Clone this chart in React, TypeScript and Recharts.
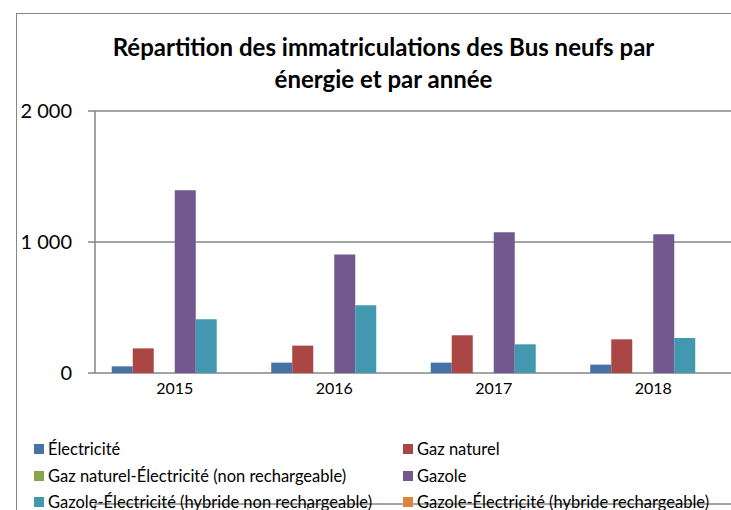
import { Bar, BarChart, CartesianGrid, XAxis, YAxis } from 'recharts';

const years = ['2015', '2016', '2017', '2018'];
const electricite = [51, 79, 79, 64];
const gazNaturel = [188, 209, 288, 257];
const gazNaturelElec = [0, 0, 0, 0];
const gazole = [1395, 904, 1074, 1059];
const gazoleHybride = [410, 517, 219, 267];
const gazoleRechargeable = [0, 0, 0, 0];
const yTicks = [0, 1000, 2000];
const edgeTicks = [0, 1, 2, 3, 4];

const series = [
  { key: 'elec', name: 'Électricité', values: electricite, color: '#4572A7' },
  { key: 'gaz', name: 'Gaz naturel', values: gazNaturel, color: '#AA4643' },
  { key: 'gazElec', name: 'Gaz naturel-Électricité (non rechargeable)', values: gazNaturelElec, color: '#89A54E' },
  { key: 'gazole', name: 'Gazole', values: gazole, color: '#71588F' },
  { key: 'hybride', name: 'Gazole-Électricité (hybride non rechargeable)', values: gazoleHybride, color: '#4198AF' },
  { key: 'recharge', name: 'Gazole-Électricité (hybride rechargeable)', values: gazoleRechargeable, color: '#DB843D' },
];

const data = years.map((year, i) => {
  const row: Record<string, string | number> = { year };
  series.forEach((s) => {
    row[s.key] = s.values[i];
  });
  return row;
});

const font = 'Lato, "Open Sans", sans-serif';
const gray = '#868686';

const fmt = (v: number) => String(v).replace(/\B(?=(\d{3})+(?!\d))/g, ' ');

function LegendBlock() {
  return (
    <div
      style={{
        position: 'absolute',
        left: 34,
        top: 436,
        width: 700,
        display: 'grid',
        gridTemplateColumns: '369px 330px',
        fontFamily: font,
        fontSize: 16.5,
        color: '#000',
      }}
    >
      {series.map((s) => (
        <div key={s.key} style={{ display: 'flex', alignItems: 'center', height: 26.5, whiteSpace: 'nowrap' }}>
          <span style={{ width: 10, height: 10, background: s.color, marginRight: 4, display: 'inline-block' }} />
          {s.name}
        </div>
      ))}
    </div>
  );
}

export default function App() {
  return (
    <div style={{ position: 'absolute', left: 0, top: 0, width: 731, height: 510, overflow: 'hidden', background: '#fff' }}>
      <div
        style={{
          position: 'absolute',
          left: 16,
          top: 13,
          width: 760,
          height: 540,
          border: `1.5px solid ${gray}`,
        }}
      />
      <div
        style={{
          position: 'absolute',
          left: 0,
          top: 31,
          width: 767,
          textAlign: 'center',
          fontFamily: font,
          fontWeight: 700,
          fontSize: 24,
          lineHeight: '32px',
          color: '#000',
        }}
      >
        Répartition des immatriculations des Bus neufs par
        <br />
        énergie et par année
      </div>
      <div style={{ position: 'absolute', left: 0, top: 0 }}>
        <BarChart
          width={740}
          height={510}
          data={data}
          margin={{ top: 111, right: 7, bottom: 0, left: 0 }}
          barGap={0}
          barCategoryGap="10.5%"
        >
          <CartesianGrid horizontal vertical={false} stroke={gray} strokeWidth={1.5} />
          <XAxis
            xAxisId="edges"
            type="number"
            domain={[0, 4]}
            ticks={edgeTicks}
            allowDataOverflow
            height={6}
            tickSize={6}
            stroke={gray}
            strokeWidth={1.5}
            tickFormatter={() => ''}
          />
          <XAxis
            dataKey="year"
            height={131}
            axisLine={false}
            tickLine={false}
            tick={{ fill: '#000', fontSize: 16, fontFamily: font }}
            tickMargin={4}
          />
          <YAxis
            domain={[0, 2000]}
            ticks={yTicks}
            width={95}
            tickSize={7}
            tickMargin={16}
            stroke={gray}
            strokeWidth={1.5}
            tickFormatter={fmt}
            tick={{ fill: '#000', fontSize: 20, fontFamily: font }}
          />
          {series.map((s) => (
            <Bar key={s.key} dataKey={s.key} name={s.name} fill={s.color} isAnimationActive={false} />
          ))}
        </BarChart>
      </div>
      <LegendBlock />
    </div>
  );
}
